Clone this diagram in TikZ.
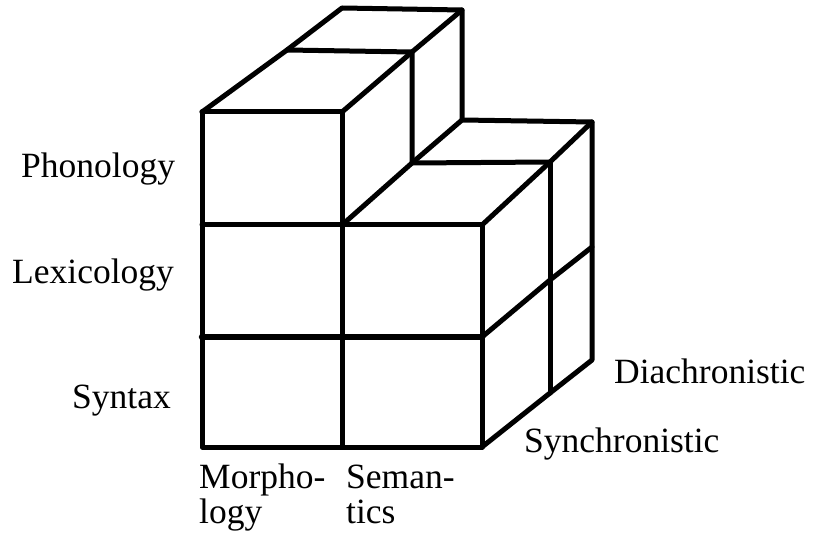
\documentclass[tikz,border=0pt]{standalone}
\usepackage{fontspec}
\setmainfont{Liberation Serif}
\newfontfamily\lblfont{Liberation Serif}
\begin{document}
\begin{tikzpicture}[x=1pt,y=-1pt,
  edge/.style={line width=5pt,line cap=round,line join=round},
  thick edge/.style={line width=6.5pt,line cap=round},
  lbl/.style={inner sep=0pt,font=\lblfont\fontsize{35.5}{40}\selectfont}]
\useasboundingbox (0,0) rectangle (813,537);
% front plane
\coordinate (F1) at (202,112); \coordinate (F2) at (342,112);
\coordinate (L225) at (202,225); \coordinate (M225) at (342,225); \coordinate (R225) at (482,225);
\coordinate (L337) at (202,337); \coordinate (R337) at (482,337);
\coordinate (L447) at (202,447); \coordinate (M447) at (342,447); \coordinate (R447) at (482,447);
% depth 1
\coordinate (A1) at (287,50); \coordinate (A2) at (412,52);
\coordinate (B1) at (412,163); \coordinate (B2) at (550,162);
\coordinate (B3) at (550,280); \coordinate (B4) at (550,393);
% depth 2
\coordinate (C1) at (342,8); \coordinate (C2) at (462,10);
\coordinate (D1) at (462,120); \coordinate (D2) at (592,122);
\coordinate (D3) at (592,247); \coordinate (D4) at (592,360);
% front face
\draw[edge] (F1) -- (L447) -- (R447) -- (R225);
\draw[edge] (F2) -- (M447);
\draw[edge] (F1) -- (F2);
\draw[edge] (L225) -- (R225);
\draw[thick edge] (L337) -- (R337);
% top of left stack
\draw[edge] (F1) -- (A1) -- (C1) -- (C2) -- (D1);
\draw[edge] (F2) -- (A2) -- (C2);
\draw[edge] (A1) -- (A2) -- (B1);
% right column
\draw[edge] (M225) -- (B1) -- (D1) -- (D2) -- (D4) -- (B4) -- (R447);
\draw[edge] (B1) -- (B2);
\draw[edge] (R225) -- (B2) -- (D2);
\draw[edge] (B2) -- (B4);
\draw[edge] (R337) -- (B3) -- (D3);
% labels
\node[lbl,anchor=base west] (phon) at (21,178) {Phonology};
\node[lbl,anchor=base west] (lex) at (12,283) {Lexicology};
\node[lbl,anchor=base west] (syn) at (72,408) {Syntax};
\node[lbl,anchor=base west] (mor1) at (199,488) {Morpho-};
\node[lbl,anchor=base west] (mor2) at (199,523) {logy};
\node[lbl,anchor=base west] (sem1) at (346,488) {Seman-};
\node[lbl,anchor=base west] (sem2) at (346,523) {tics};
\node[lbl,anchor=base west] (dia) at (614,383) {Diachronistic};
\node[lbl,anchor=base west] (syc) at (524,452) {Synchronistic};
\end{tikzpicture}
\end{document}
